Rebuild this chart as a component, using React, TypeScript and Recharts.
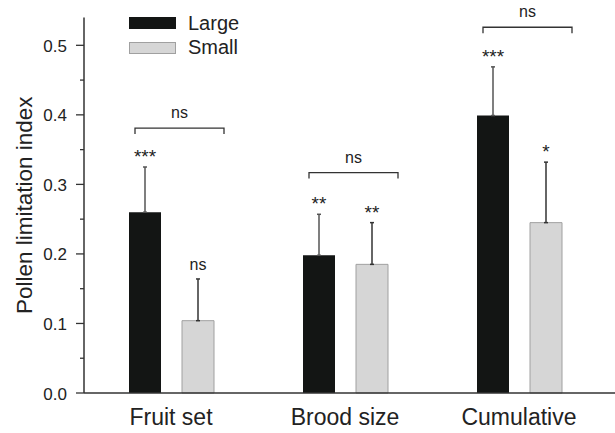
import React from "react";
import { BarChart, Bar, XAxis, YAxis, ErrorBar, Legend, LabelList, Label } from "recharts";

const categories = ["Fruit set", "Brood size", "Cumulative"];
const largeVals = [0.26, 0.198, 0.399];
const smallVals = [0.104, 0.185, 0.245];
const largeErr = [0.065, 0.059, 0.07];
const smallErr = [0.06, 0.06, 0.087];
const largeSig = ["***", "**", "***"];
const smallSig = ["ns", "**", "*"];
const groupSig = ["ns", "ns", "ns"];
const bracketLevel = [0.381, 0.317, 0.526];
const yTicks = [0, 0.05, 0.1, 0.15, 0.2, 0.25, 0.3, 0.35, 0.4, 0.45, 0.5];

const data = categories.map((c, i) => ({
  name: c,
  large: largeVals[i],
  small: smallVals[i],
  largeErr: [0, largeErr[i]],
  smallErr: [0, smallErr[i]],
}));

const FONT = "'Liberation Sans', Arial, sans-serif";
const TEXT = "#222";
const BAR_W = 32;
const BAR_GAP = 21;

function YTick(props: any) {
  const { x, y, payload } = props;
  const v = payload.value;
  const major = Math.abs(v * 10 - Math.round(v * 10)) < 1e-6;
  return (
    <g>
      <line x1={x - (major ? 8 : 4)} x2={x} y1={y} y2={y} stroke="#333" strokeWidth={1.3} />
      {major && (
        <text x={x - 17} y={y + 6.5} textAnchor="end" fontSize={17} fontFamily={FONT} fill={TEXT}>
          {v.toFixed(1)}
        </text>
      )}
    </g>
  );
}

function XTick(props: any) {
  const { x, y, payload } = props;
  return (
    <text x={x} y={y + 32} textAnchor="middle" fontSize={23} fontFamily={FONT} fill={TEXT}>
      {payload.value}
    </text>
  );
}

function sigText(x: number, y: number, s: string) {
  const isNs = s === "ns";
  return (
    <text x={x} y={y - (isNs ? 9 : 4)} textAnchor="middle" fontSize={isNs ? 16 : 19} fontFamily={FONT} fill={TEXT}>
      {s}
    </text>
  );
}

function LargeLabel(props: any) {
  const { x, y, width, height, value, index } = props;
  const base = y + height;
  const px = height / value;
  const cx = x + width / 2;
  const errTop = base - (value + largeErr[index]) * px;
  const by = base - bracketLevel[index] * px;
  const bx1 = x + 6;
  const bx2 = x + 2 * width + BAR_GAP + 10;
  return (
    <g>
      {sigText(cx, errTop, largeSig[index])}
      <path d={`M${bx1},${by + 6} L${bx1},${by} L${bx2},${by} L${bx2},${by + 6}`} fill="none" stroke="#333" strokeWidth={1.3} />
      <text x={(bx1 + bx2) / 2} y={by - 10} textAnchor="middle" fontSize={16} fontFamily={FONT} fill={TEXT}>
        {groupSig[index]}
      </text>
    </g>
  );
}

function SmallLabel(props: any) {
  const { x, y, width, height, value, index } = props;
  const base = y + height;
  const px = height / value;
  const errTop = base - (value + smallErr[index]) * px;
  return sigText(x + width / 2, errTop, smallSig[index]);
}

function LegendBox() {
  const items = [
    { label: "Large", fill: "#131514", stroke: "#131514" },
    { label: "Small", fill: "#d6d6d6", stroke: "#a0a0a0" },
  ];
  return (
    <div style={{ fontFamily: FONT }}>
      {items.map((it) => (
        <div key={it.label} style={{ display: "flex", alignItems: "center", height: 24.5 }}>
          <div style={{ width: 45, height: 10, background: it.fill, border: `1px solid ${it.stroke}` }} />
          <span style={{ marginLeft: 12, fontSize: 20, color: TEXT }}>{it.label}</span>
        </div>
      ))}
    </div>
  );
}

export default function App() {
  return (
    <div style={{ position: "absolute", left: 0, top: 0, background: "#fff" }}>
      <BarChart
        width={615}
        height={433}
        data={data}
        margin={{ top: 17.5, right: 0, bottom: 0, left: 0 }}
        barSize={BAR_W}
        barGap={BAR_GAP}
      >
        <XAxis
          dataKey="name"
          height={40}
          padding={{ left: 0, right: 9 }}
          axisLine={{ stroke: "#333", strokeWidth: 1.5 }}
          tickLine={false}
          tickSize={0}
          tickMargin={0}
          tick={<XTick />}
          interval={0}
        />
        <YAxis
          width={84}
          domain={[0, 0.54]}
          ticks={yTicks}
          axisLine={{ stroke: "#333", strokeWidth: 1.5 }}
          tickLine={false}
          tickSize={0}
          tickMargin={0}
          tick={<YTick />}
          interval={0}
        >
          <Label
            content={(p: any) => {
              const vb = p.viewBox;
              const cy = vb.y + vb.height / 2;
              return (
                <text transform={`translate(32, ${cy}) rotate(-90)`} textAnchor="middle" fontSize={22.5} fontFamily={FONT} fill={TEXT}>
                  Pollen limitation index
                </text>
              );
            }}
          />
        </YAxis>
        <Legend
          layout="vertical"
          align="center"
          verticalAlign="middle"
          wrapperStyle={{ left: 129, top: 11, width: 150 }}
          content={<LegendBox />}
        />
        <Bar dataKey="large" fill="#131514" isAnimationActive={false}>
          <ErrorBar dataKey="largeErr" direction="y" width={2} stroke="#555" strokeWidth={1.5} />
          <LabelList dataKey="large" content={<LargeLabel />} />
        </Bar>
        <Bar dataKey="small" fill="#d6d6d6" stroke="#a0a0a0" strokeWidth={1} isAnimationActive={false}>
          <ErrorBar dataKey="smallErr" direction="y" width={2} stroke="#333" strokeWidth={1.5} />
          <LabelList dataKey="small" content={<SmallLabel />} />
        </Bar>
      </BarChart>
    </div>
  );
}
